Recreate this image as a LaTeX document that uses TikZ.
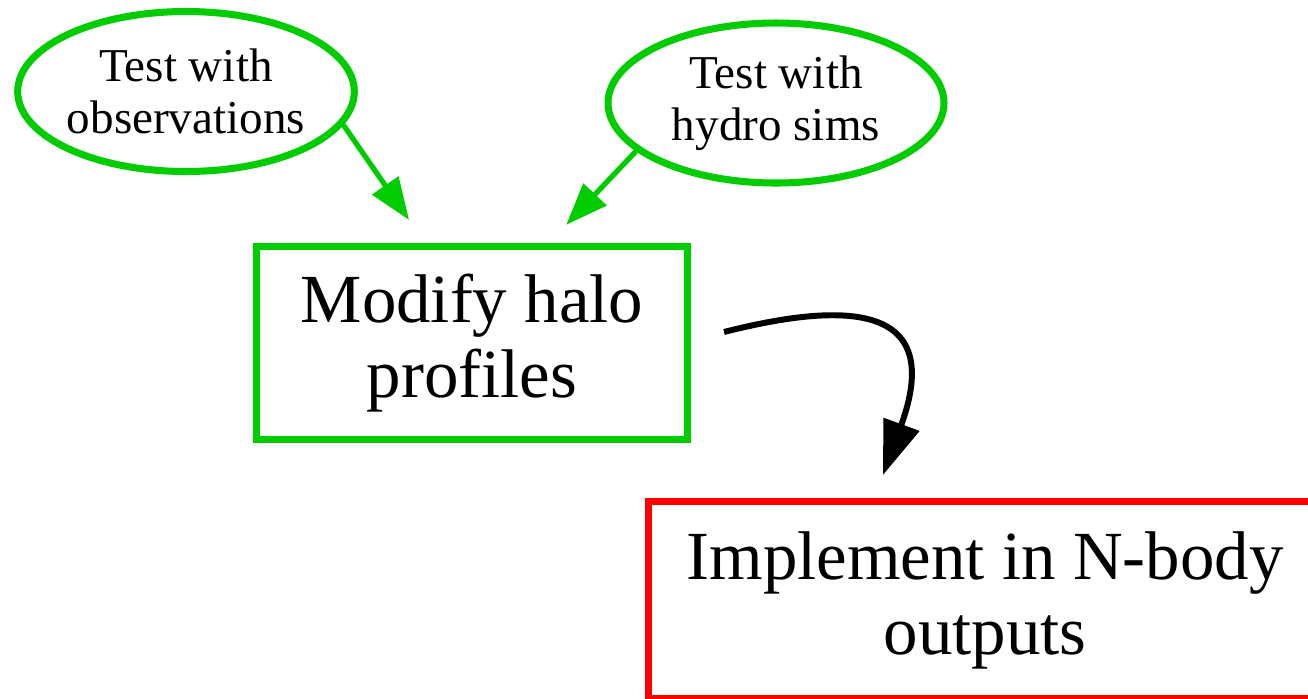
\documentclass[tikz,border=0pt]{standalone}
\usepackage{fontspec}
\setmainfont{Liberation Serif}
\usepackage{xcolor}
\usepackage{tikz}
\usetikzlibrary{shapes, arrows.meta, positioning, calc}

\definecolor{testgreen}{RGB}{0,204,0}
\definecolor{implred}{RGB}{255,0,0}

\begin{document}
\begin{tikzpicture}[
    testnode/.style={draw=testgreen, ellipse, line width=2pt, inner sep=0pt,
        minimum width=3.36cm, minimum height=1.6cm, align=center,
        font=\fontsize{13.4}{14.8}\selectfont},
    boxnode/.style={draw, rectangle, line width=2pt,
        align=center, font=\fontsize{19.6}{21.3}\selectfont},
    greenarrow/.style={-{Triangle[length=0.42cm, width=0.31cm]}, testgreen, line width=1.5pt},
    blackarrow/.style={-{Triangle[length=0.54cm, width=0.37cm]}, black, line width=1.7pt}
]
\useasboundingbox (0,0) rectangle (13.08,-6.98);

% Tests
\node[testnode] (obs) at (1.86,-0.915) {Test with\\observations};
\node[testnode] (hydro) at (7.76,-1.03) {Test with\\hydro sims};

% Halo profiles
\node[boxnode, draw=testgreen, minimum width=4.31cm, minimum height=1.93cm] (modify) at (4.72,-3.43)
   {Modify halo\\profiles};

% N-body outputs
\node[boxnode, draw=implred, minimum width=6.73cm, minimum height=1.97cm] (implement) at (9.85,-6.00)
   {Implement in N-body\\outputs};

\draw[greenarrow, shorten >=0.28cm] (obs.-12) -- ([xshift=-0.47cm]modify.north);
\draw[greenarrow, shorten >=0.25cm] (hydro.199) -- ([xshift=0.77cm]modify.north);

\draw[blackarrow] ([xshift=0.33cm, yshift=0.11cm]modify.east)
   .. controls (8.50,-3.00) and (9.45,-3.05) .. ([xshift=-1.02cm, yshift=0.23cm]implement.north);
\end{tikzpicture}
\end{document}
